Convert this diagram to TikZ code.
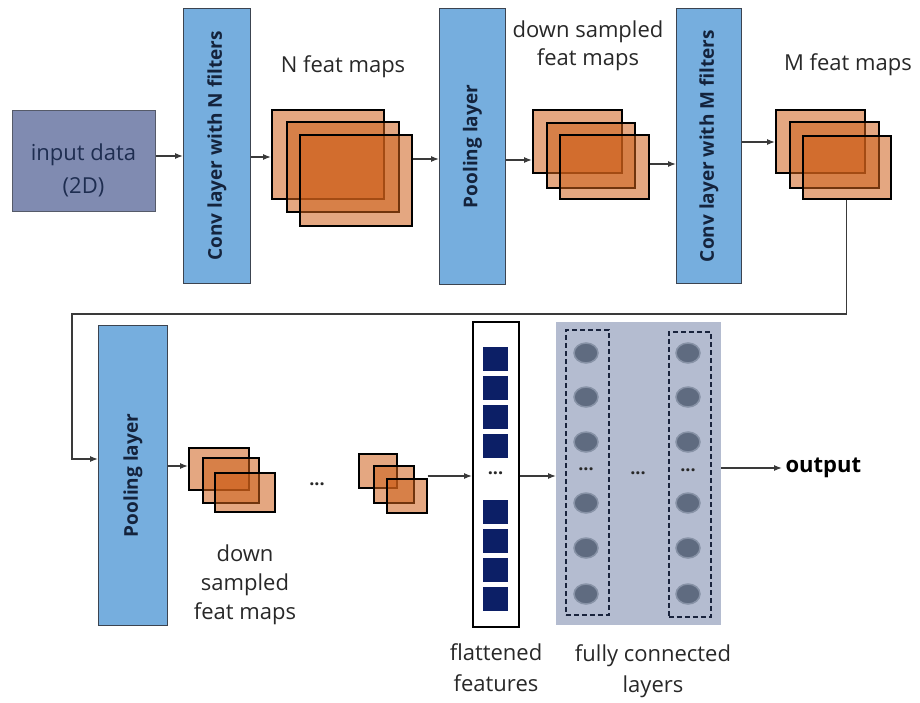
\documentclass[tikz,border=0pt]{standalone}
\usepackage{fontspec}
\setmainfont{Open Sans}
\usetikzlibrary{arrows.meta,shapes.geometric}
\definecolor{inputfill}{RGB}{128,139,177}
\definecolor{inputtext}{RGB}{30,45,80}
\definecolor{layerblue}{RGB}{118,174,222}
\definecolor{layerline}{RGB}{60,68,80}
\definecolor{layertext}{RGB}{20,35,60}
\definecolor{fmorange}{RGB}{205,95,25}
\definecolor{fcfill}{RGB}{180,188,208}
\definecolor{navysq}{RGB}{12,31,102}
\definecolor{neuron}{RGB}{95,107,128}
\definecolor{neuronrim}{RGB}{135,146,166}
\definecolor{dashline}{RGB}{25,35,60}
\definecolor{conn}{RGB}{58,58,58}
\definecolor{lbl}{RGB}{40,40,40}
\begin{document}
\begin{tikzpicture}[x=1pt,y=-1pt,
  lbltext/.style={font=\fontsize{22}{29}\selectfont, text=lbl, align=center},
  layerbox/.style={draw=layerline, fill=layerblue, line width=1pt, inner sep=0pt, anchor=north west},
  layerlabel/.style={rotate=90, font=\fontsize{19}{22}\selectfont\bfseries, text=layertext},
  fm/.style={draw=black, line width=1.6pt, fill=fmorange, fill opacity=0.55, inner sep=0pt, anchor=north west},
  arr/.style={draw=conn, line width=1.2pt, -{Latex[length=8pt,width=6pt]}},
  sq/.style={fill=navysq, inner sep=0pt, minimum width=25pt, minimum height=24pt, anchor=north},
  neur/.style={ellipse, fill=neuron, draw=neuronrim, line width=1.5pt, minimum width=24pt, minimum height=20pt, inner sep=0pt},
  dbox/.style={draw=dashline, dashed, line width=1.6pt, dash pattern=on 5pt off 3pt, inner sep=0pt, anchor=north west},
  dots/.style={font=\fontsize{18}{20}\selectfont\bfseries, text=lbl, inner sep=0pt}
]
\useasboundingbox (0,0) rectangle (920,702);

% input data
\node[draw={rgb,255:red,85;green,90;blue,105}, fill=inputfill, line width=1.2pt, inner sep=0pt, anchor=north west,
      minimum width=143pt, minimum height=101pt] (inp) at (12,110) {};
\node[font=\fontsize{22}{33}\selectfont, text=inputtext, align=center] (inptxt) at (83.5,170) {input data\\(2D)};

% top row layers
\node[layerbox, minimum width=67pt, minimum height=275pt] (convN) at (183,8) {};
\node[layerlabel] (convNt) at (convN.center) {Conv layer with N filters};
\node[layerbox, minimum width=66pt, minimum height=276pt] (pool1) at (439,8) {};
\node[layerlabel] (pool1t) at (pool1.center) {Pooling layer};
\node[layerbox, minimum width=65pt, minimum height=275pt] (convM) at (676,8) {};
\node[layerlabel] (convMt) at (convM.center) {Conv layer with M filters};

% N feat maps stack
\node[fm, minimum width=112pt, minimum height=89pt] (n1) at (271,109) {};
\node[fm, minimum width=112pt, minimum height=90pt] (n2) at (286,121) {};
\node[fm, minimum width=112pt, minimum height=91pt] (n3) at (299,134) {};
\node[lbltext] (nlab) at (343,67) {N feat maps};

% down sampled stack (top)
\node[fm, minimum width=89pt, minimum height=63pt] (d1) at (532,109) {};
\node[fm, minimum width=88pt, minimum height=65pt] (d2) at (546,122) {};
\node[fm, minimum width=89pt, minimum height=64pt] (d3) at (559,134) {};
\node[lbltext, font=\fontsize{22}{28}\selectfont] (dlab) at (588,46) {down sampled\\feat maps};

% M feat maps stack
\node[fm, minimum width=89pt, minimum height=63pt] (m1) at (775,109) {};
\node[fm, minimum width=89pt, minimum height=66pt] (m2) at (789,121) {};
\node[fm, minimum width=88pt, minimum height=63pt] (m3) at (802,135) {};
\node[lbltext] (mlab) at (848,65) {M feat maps};

% top row arrows
\draw[arr] (inp.east |- 0,156) -- (convN.west |- 0,156);
\draw[arr] (convN.east |- 0,157) -- (n1.west |- 0,157);
\draw[arr] (n3.east |- 0,159) -- (pool1.west |- 0,159);
\draw[arr] (pool1.east |- 0,160) -- (d1.west |- 0,160);
\draw[arr] (d3.east |- 0,164) -- (convM.west |- 0,164);
\draw[arr] (convM.east |- 0,142) -- (m1.west |- 0,142);

% bottom row
\node[layerbox, minimum width=69pt, minimum height=300pt] (pool2) at (98,325) {};
\node[layerlabel] (pool2t) at (pool2.center) {Pooling layer};

\coordinate (turn) at (72,314);
\coordinate (p2in) at (98,459);
\draw[arr] (m3.south) |- (turn) |- (p2in);

\node[fm, minimum width=60pt, minimum height=42pt] (a1) at (188,447) {};
\node[fm, minimum width=56pt, minimum height=45pt] (a2) at (202,457) {};
\node[fm, minimum width=60pt, minimum height=39pt] (a3) at (214,472) {};
\node[lbltext] (alab) at (245,585) {down\\sampled\\feat maps};
\draw[arr] (pool2.east |- 0,466) -- (a1.west |- 0,466);

\node[dots] (dotsA) at (317,484) {...};

\node[fm, minimum width=38pt, minimum height=34pt] (b1) at (358,453) {};
\node[fm, minimum width=40pt, minimum height=37pt] (b2) at (373,465) {};
\node[fm, minimum width=40pt, minimum height=34pt] (b3) at (386,478) {};

% flattened features
\node[draw=black, fill=white, line width=1.5pt, inner sep=0pt, anchor=north west,
      minimum width=46pt, minimum height=305pt] (flat) at (472,321) {};
\foreach \i/\y in {1/347,2/376,3/405,4/434,5/500,6/529,7/558,8/587}{
  \node[sq] (sq\i) at (495.5,\y) {};
}
\node[dots] (dotsF) at (495.5,473) {...};
\node[lbltext, font=\fontsize{22}{31}\selectfont] (flab) at (496,668) {flattened\\features};
\draw[arr] (b3.east |- 0,476) -- (flat.west |- 0,476);

% fully connected
\node[fill=fcfill, inner sep=0pt, anchor=north west, minimum width=165pt, minimum height=303pt] (fc) at (556,322) {};
\node[dbox, minimum width=43pt, minimum height=285pt] (col1) at (565,329) {};
\node[dbox, minimum width=42pt, minimum height=285pt] (col2) at (668,331) {};
\foreach \i/\y in {1/353,2/397,3/442,4/503,5/548,6/594}{
  \node[neur] (na\i) at (586,\y) {};
  \node[neur] (nb\i) at (688,\y) {};
}
\node[dots] (dotsC1) at (586,469) {...};
\node[dots] (dotsC2) at (688,470) {...};
\node[dots] (dotsC) at (638,473) {...};
\node[lbltext, font=\fontsize{22}{31}\selectfont] (fclab) at (653,671) {fully connected\\layers};
\draw[arr] (flat.east |- 0,476) -- (fc.west |- 0,476);

% output
\node[font=\fontsize{22}{24}\selectfont\bfseries, text=black, anchor=west] (out) at (782,468) {output};
\draw[arr] (fc.east |- out.west) -- (out.west);
\end{tikzpicture}
\end{document}
